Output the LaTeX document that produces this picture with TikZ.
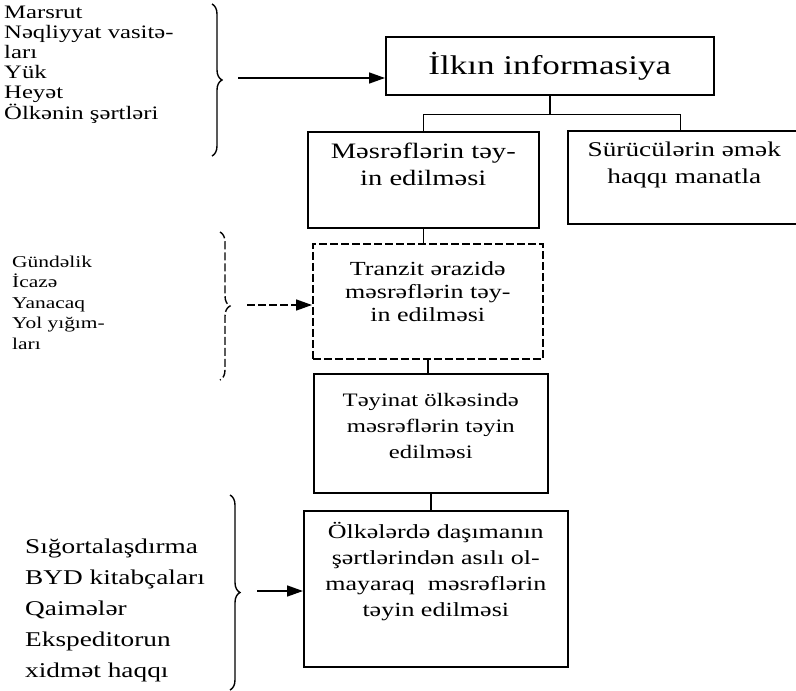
\documentclass[tikz,border=0pt]{standalone}
\usepackage{fontspec}
\setmainfont{Liberation Serif}[FakeStretch=1.3]
\usetikzlibrary{arrows.meta, decorations.pathreplacing}
\newcommand{\linesc}[1]{\begin{tabular}[t]{@{}c@{}}#1\end{tabular}}
\newcommand{\linesl}[1]{\begin{tabular}[t]{@{}l@{}}#1\end{tabular}}

\begin{document}
\begin{tikzpicture}[
  x=1pt, y=-1pt,
  every node/.style={text=black},
  stage/.style={
    draw,
    line width=1.6pt,
    inner sep=0pt,
    anchor=north west,
    fill=white,
  },
  inlist/.style={
    anchor=base west,
    inner sep=0pt,
  },
  feed/.style={
    -{Triangle[length=16pt, width=11pt]},
    line width=1.6pt,
  },
  wire/.style={line width=1.6pt},
  bracket/.style={
    decorate,
    decoration={brace, amplitude=10pt},
    line width=1.4pt,
  },
  faint/.style={dash pattern=on 8pt off 3pt},
]
  \useasboundingbox (0,0) rectangle (796,691);

  % stages of the calculation
  \node[stage, minimum width=328pt, minimum height=58pt, font=\fontsize{27}{30}\selectfont] (info) at (385,36) {İlkın informasiya};
  \node[stage, minimum width=231pt, text height=27pt, text depth=69pt, font=\fontsize{22}{27}\selectfont] (cost) at (307,131) {\linesc{Məsrəflərin təy-\\in edilməsi}};
  \node[stage, minimum width=233pt, text height=26pt, text depth=67pt, font=\fontsize{21}{27}\selectfont] (wage) at (567,130) {\linesc{Sürücülərin əmək\\haqqı manatla}};
  \node[stage, faint, minimum width=230pt, text height=32pt, text depth=83pt, font=\fontsize{20}{23}\selectfont] (transit) at (312,243) {\linesc{Tranzit ərazidə\\məsrəflərin təy-\\in edilməsi}};
  \node[stage, minimum width=234pt, text height=33pt, text depth=86pt, font=\fontsize{19}{26}\selectfont] (dest) at (313,373) {\linesc{Təyinat ölkəsində\\məsrəflərin təyin\\edilməsi}};
  \node[stage, minimum width=264pt, text height=28pt, text depth=128pt, font=\fontsize{20}{26}\selectfont] (fixed) at (303,510) {\linesc{Ölkələrdə daşımanın\\şərtlərindən asılı ol-\\mayaraq\ \ məsrəflərin\\təyin edilməsi}};

  % input lists
  \node[inlist, font=\fontsize{19}{20}\selectfont] (route) at (4,18) {\linesl{Marsrut\\Nəqliyyat vasitə-\\ları\\Yük\\Heyət\\Ölkənin şərtləri}};
  \node[inlist, font=\fontsize{16.5}{20.5}\selectfont] (daily) at (12,267) {\linesl{Gündəlik\\İcazə\\Yanacaq\\Yol yığım-\\ları}};
  \node[inlist, font=\fontsize{21}{31}\selectfont] (extras) at (25,553) {\linesl{Sığortalaşdırma\\BYD kitabçaları\\Qaimələr\\Ekspeditorun\\xidmət haqqı}};

  % braces and feeds
  \coordinate (routetop) at (212,4);
  \coordinate (routebot) at (212,156);
  \coordinate (routefeed) at (238,78);
  \draw[bracket] (routetop) -- (routebot);
  \draw[feed] (routefeed) -- (routefeed -| info.west);

  \coordinate (dailytop) at (220,232);
  \coordinate (dailybot) at (220,380);
  \coordinate (dailyfeed) at (247,305);
  \draw[bracket, faint] (dailytop) -- (dailybot);
  \draw[feed, faint] (dailyfeed) -- (dailyfeed -| transit.west);

  \coordinate (extrastop) at (230,495);
  \coordinate (extrasbot) at (230,690);
  \coordinate (extrasfeed) at (257,591);
  \draw[bracket] (extrastop) -- (extrasbot);
  \draw[feed] (extrasfeed) -- (extrasfeed -| fixed.west);

  % links between stages
  \draw[wire] (info.south) -- ++(0,19) coordinate (split);
  \draw[wire] (split) -| (cost.north);
  \draw[wire] (split) -| ([xshift=-4pt]wage.north);
  \draw[wire] (cost.south) -- (cost.south |- transit.north);
  \draw[wire] (transit.south) -- (transit.south |- dest.north);
  \draw[wire] (dest.south) -- (dest.south |- fixed.north);
\end{tikzpicture}
\end{document}
